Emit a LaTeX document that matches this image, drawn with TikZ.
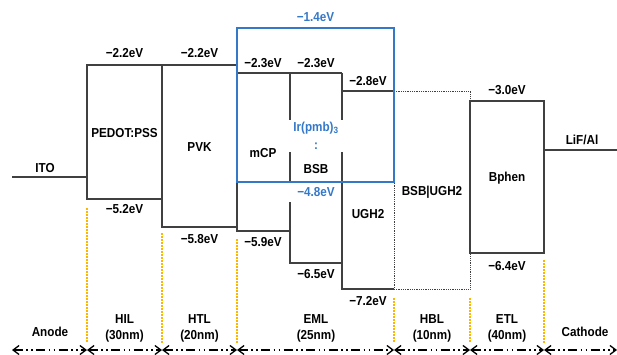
\documentclass[tikz,border=0pt]{standalone}
\usepackage{fontspec}
\setmainfont{Liberation Sans}[FakeStretch=0.9]
\definecolor{levelgray}{RGB}{64,64,64}
\definecolor{hostblue}{RGB}{52,120,200}
\definecolor{layergold}{RGB}{255,180,0}
\usetikzlibrary{arrows.meta}

\begin{document}
\begin{tikzpicture}[x=1pt, y=-1pt,
    level/.style={draw=levelgray, line width=1.3pt},
    hbl/.style={draw=levelgray, line width=0.8pt, densely dotted},
    txt/.style={font=\bfseries\fontsize{13}{16}\selectfont, text=black, inner sep=0pt, align=center},
    bluetxt/.style={txt, text=hostblue},
    cut/.style={draw=layergold, line width=1.2pt, dash pattern=on 1.5pt off 1.5pt},
    span/.style={draw=black, line width=1.3pt, dash pattern=on 9pt off 3.5pt on 1.5pt off 3.5pt on 1.5pt off 3.5pt,
                 {Straight Barb[length=6pt,width=9pt]}-{Straight Barb[length=6pt,width=9pt]}}]
  \useasboundingbox (0,0) rectangle (617,355);

  % ITO, PEDOT:PSS, PVK
  \draw[level] (12,177) -- (87,177);
  \draw[level] (87,65) rectangle (162,199);
  \draw[level] (162,65) rectangle (237,227);

  % EML: mCP, BSB, UGH2
  \draw[level] (237,73) -- (290,73);
  \draw[level] (237,227) -- (237,231) -- (290,231);
  \draw[level] (290,73) -- (342,73);
  \draw[level] (290,73) -- (290,120);
  \draw[level] (290,152) -- (290,183);
  \draw[level] (290,202) -- (290,263) -- (342,263);
  \draw[level] (342,73) -- (342,120);
  \draw[level] (342,152) -- (342,289) -- (394,289);
  \draw[level] (342,91) -- (394,91);

  % HBL (dotted)
  \draw[hbl] (394,91) -- (470,91) -- (470,289) -- (394,289) -- (394,182);

  % Bphen, LiF/Al
  \draw[level] (470,101) rectangle (544,253);
  \draw[level] (544,150) -- (617,150);

  % host box
  \draw[hostblue, line width=1.1pt] (237,28) rectangle (394,182);

  % level labels
  \node[txt] (pedotlumo) at (124.5,53) {−2.2eV};
  \node[txt] (pvklumo) at (199.5,53) {−2.2eV};
  \node[txt] (mcplumo) at (263,63) {−2.3eV};
  \node[txt] (bsblumo) at (316,63) {−2.3eV};
  \node[txt] (ughlumo) at (368,81) {−2.8eV};
  \node[bluetxt] (irlumo) at (315.5,17) {−1.4eV};
  \node[txt] (bphenlumo) at (507,90) {−3.0eV};
  \node[txt] (pedothomo) at (124.5,209) {−5.2eV};
  \node[txt] (pvkhomo) at (199.5,239) {−5.8eV};
  \node[txt] (mcphomo) at (263,242) {−5.9eV};
  \node[bluetxt] (irhomo) at (316,192) {−4.8eV};
  \node[txt] (bsbhomo) at (316,274) {−6.5eV};
  \node[txt] (ughhomo) at (368,301) {−7.2eV};
  \node[txt] (bphenhomo) at (507,266) {−6.4eV};

  % material names
  \node[txt] (ito) at (45,168) {ITO};
  \node[txt] (pedot) at (124.5,133) {PEDOT:PSS};
  \node[txt] (pvk) at (199.5,147) {PVK};
  \node[txt] (mcp) at (263,153) {mCP};
  \node[bluetxt] (irpmb) at (316,128) {Ir(pmb)\textsubscript{3}};
  \node[bluetxt] (ratio) at (316,146) {:};
  \node[txt] (bsb) at (316,169) {BSB};
  \node[txt] (ugh) at (368,214) {UGH2};
  \node[txt] (bsbugh) at (432,192) {BSB|UGH2};
  \node[txt] (bphen) at (507,178) {Bphen};
  \node[txt] (lifal) at (582,140) {LiF/Al};

  % layer boundaries
  \foreach \x/\y in {87/208, 162/233, 237/239, 394/298, 470/298, 544/260}
    \draw[cut] (\x,\y) -- (\x,343);

  \foreach \x [count=\i] in {12,87,162,237,394,470,544,617}
    \coordinate (b\i) at (\x,350);
  \foreach \i/\j in {1/2, 2/3, 3/4, 4/5, 5/6, 6/7, 7/8}
    \draw[span] (b\i) -- (b\j);

  % layer names
  \node[txt] (anode) at (50,332) {Anode};
  \node[txt] (hil) at (124.5,328) {HIL\\(30nm)};
  \node[txt] (htl) at (199.5,328) {HTL\\(20nm)};
  \node[txt] (eml) at (316,328) {EML\\(25nm)};
  \node[txt] (hbl) at (432,328) {HBL\\(10nm)};
  \node[txt] (etl) at (507,328) {ETL\\(40nm)};
  \node[txt] (cathode) at (585,332) {Cathode};
\end{tikzpicture}
\end{document}
